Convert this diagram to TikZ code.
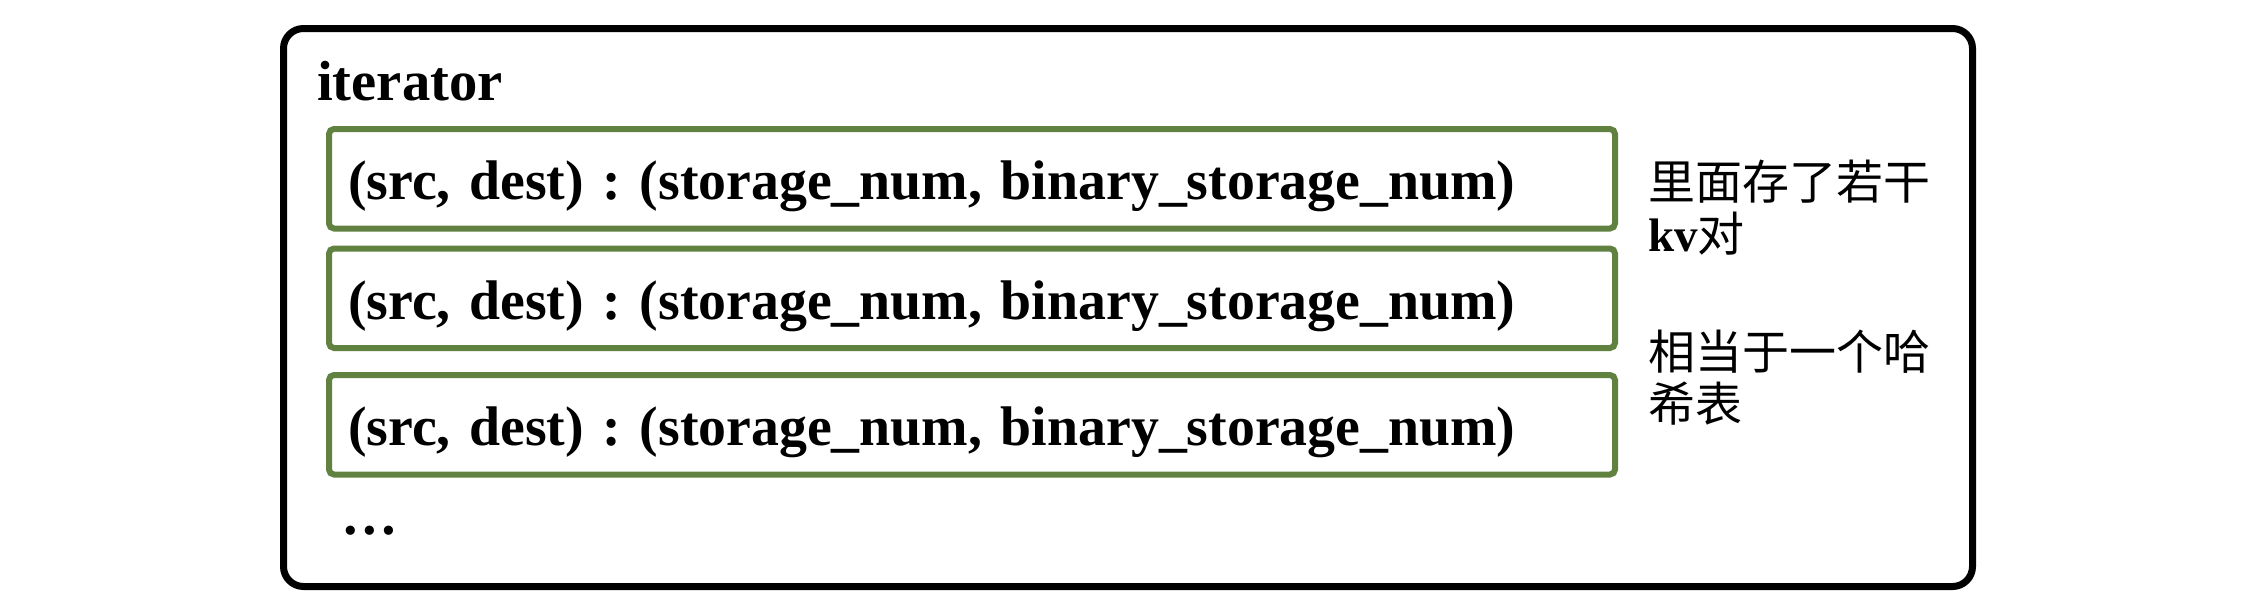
\documentclass[tikz,border=0pt]{standalone}
\usepackage{fontspec}
\setmainfont{Liberation Serif}
\newfontfamily\cjk{Noto Sans CJK SC}
\definecolor{kvgreen}{RGB}{97,129,64}
\frenchspacing
\begin{document}
\begin{tikzpicture}[x=1pt,y=-1pt,
  outerbox/.style={draw=black,line width=7pt,rounded corners=20pt,anchor=north west,inner sep=0pt},
  kvbox/.style={draw=kvgreen,line width=6pt,rounded corners=5pt,anchor=north west,
    text width=1248pt,align=left,inner xsep=19pt,inner ysep=10.75pt,
    text height=60pt,text depth=18pt,font=\frenchspacing\bfseries\fontsize{55.8}{68}\selectfont},
  title/.style={anchor=base west,inner sep=0pt,font=\bfseries\fontsize{56.6}{68}\selectfont},
  note/.style={anchor=base west,inner sep=0pt,align=left,font=\fontsize{47}{52}\selectfont}]
\useasboundingbox (0,0) rectangle (2244,608);
\node[outerbox,minimum width=1689pt,minimum height=558pt] (iter) at (280,25) {};
\node[title] (title) at (317,100) {iterator};
\node[kvbox] (kv1) at (326,126) {(src, dest) : (storage\_num, binary\_storage\_num)};
\node[kvbox] (kv2) at (326,245.5) {(src, dest) : (storage\_num, binary\_storage\_num)};
\node[kvbox] (kv3) at (326,372) {(src, dest) : (storage\_num, binary\_storage\_num)};
\node[title] (more) at (341,534) {…};
\node[note] (note1) at (1648,251) {{\cjk 里面存了若干}\\{\bfseries kv}{\cjk 对}};
\node[note] (note2) at (1648,421) {{\cjk 相当于一个哈}\\{\cjk 希表}};
\end{tikzpicture}
\end{document}
